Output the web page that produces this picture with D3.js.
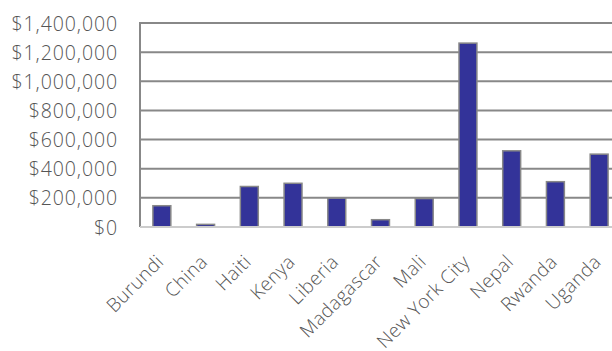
<!DOCTYPE html>
<html>
<head>
<meta charset="utf-8">
<script src="https://cdn.jsdelivr.net/npm/d3@7"></script>
<style>
  body { margin: 0; background: #fff; }
  svg { display: block; font-family: "Open Sans", sans-serif; }
</style>
</head>
<body>
<div id="chart"></div>
<script>
const categories = ["Burundi", "China", "Haiti", "Kenya", "Liberia", "Madagascar",
  "Mali", "New York City", "Nepal", "Rwanda", "Uganda"]
const values = [146000, 18000, 278000, 300000, 198000, 50000,
  195000, 1262000, 523000, 311000, 500000]
const yTicks = [0, 200000, 400000, 600000, 800000, 1000000, 1200000, 1400000]

const width = 612, height = 351
const margin = { left: 140, top: 23, right: -9, bottom: 124 }
const chartWidth = width - margin.left - margin.right
const chartHeight = height - margin.top - margin.bottom

const svg = d3.select("#chart").append("svg")
  .attr("width", width).attr("height", height)

const x = d3.scaleBand().domain(categories).range([0, chartWidth])
  .paddingInner(0.59).paddingOuter(0.295)
const y = d3.scaleLinear().domain([0, 1400000]).range([chartHeight, 0])

const g = svg.append("g").attr("transform", `translate(${margin.left},${margin.top})`)

// 网格线
g.selectAll(".grid").data(yTicks.slice(1)).join("line")
  .attr("x1", 0).attr("x2", chartWidth)
  .attr("y1", d => y(d)).attr("y2", d => y(d))
  .attr("stroke", "#888").attr("stroke-width", 2)

// 左边框
g.append("line").attr("x1", 0).attr("x2", 0).attr("y1", -1).attr("y2", chartHeight)
  .attr("stroke", "#888").attr("stroke-width", 2)

// 柱子
g.selectAll(".bar").data(values).join("rect")
  .attr("x", (d, i) => x(categories[i]))
  .attr("y", d => y(d))
  .attr("width", x.bandwidth())
  .attr("height", d => chartHeight - y(d))
  .attr("fill", "#333399")
  .attr("stroke", "#888").attr("stroke-width", 1.5)

// 底部轴线
g.append("line").attr("x1", 0).attr("x2", chartWidth)
  .attr("y1", chartHeight).attr("y2", chartHeight)
  .attr("stroke", "#ccc").attr("stroke-width", 2)

const fmt = d => "$" + d3.format(",")(d)

// Y 轴
const yAxis = g.append("g").call(d3.axisLeft(y).tickValues(yTicks).tickFormat(fmt).tickSize(0).tickPadding(22))
yAxis.select(".domain").remove()
yAxis.selectAll("text").attr("fill", "#555").attr("font-size", 19.5)
  .attr("font-weight", 300).attr("letter-spacing", 0.9)
  .attr("font-family", "Open Sans, sans-serif").attr("dy", "0.36em")

// X 轴
const xAxis = g.append("g").attr("transform", `translate(0,${chartHeight})`)
  .call(d3.axisBottom(x).tickSize(0))
xAxis.select(".domain").remove()
xAxis.selectAll("text")
  .attr("fill", "#555").attr("font-size", 19)
  .attr("font-weight", 300).attr("letter-spacing", 0.4)
  .attr("font-family", "Open Sans, sans-serif")
  .attr("text-anchor", "end")
  .attr("dy", null).attr("y", 0)
  .attr("transform", "translate(3,36) rotate(-45)")
</script>
</body>
</html>
